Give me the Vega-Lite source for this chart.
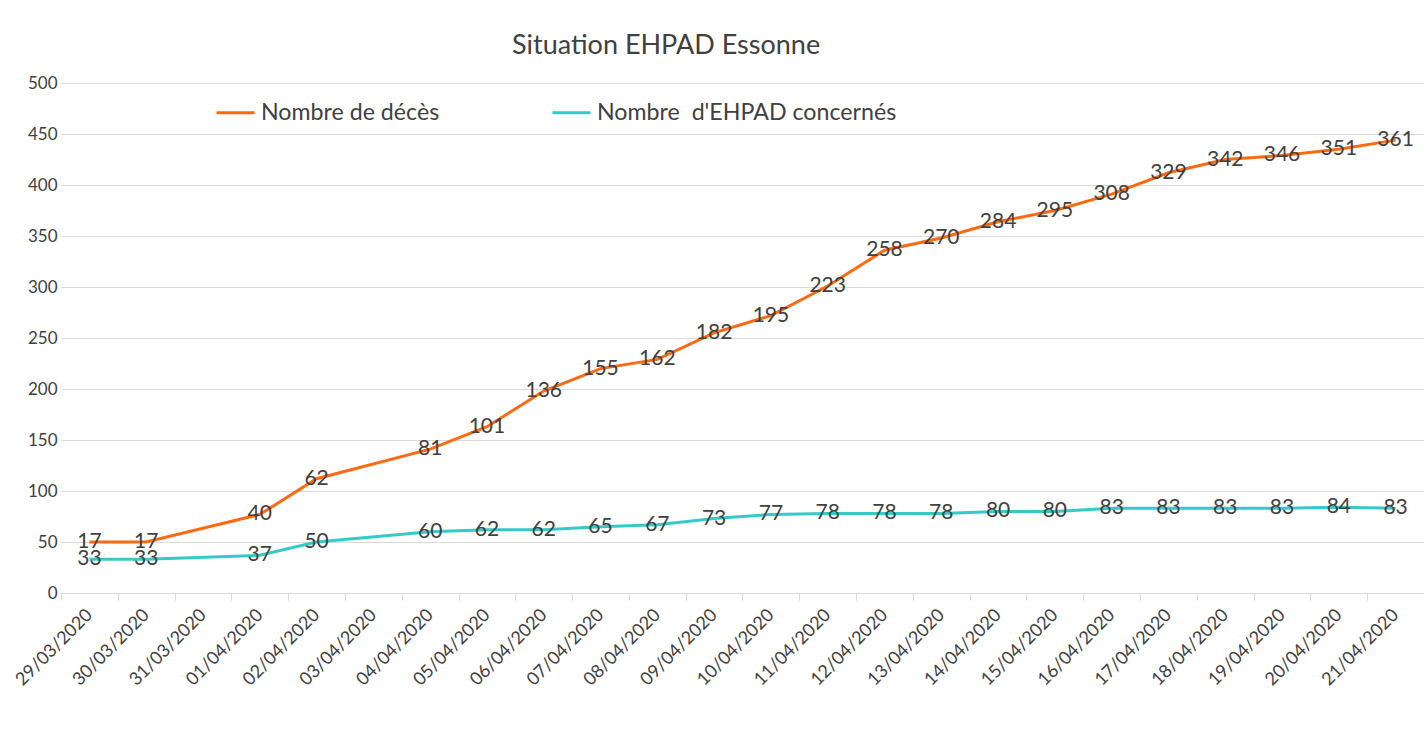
{
  "$schema": "https://vega.github.io/schema/vega-lite/v6.json",
  "width": 1363,
  "height": 510,
  "autosize": {"type": "none"},
  "padding": {"left": 61, "top": 83, "right": 0, "bottom": 141},
  "background": "white",
  "config": {"font": "Lato", "view": {"stroke": null}},
  "title": {"text": "Situation EHPAD Essonne", "anchor": "start", "frame": "group", "dx": 451, "fontSize": 27, "fontWeight": "normal", "color": "#404040", "offset": 14},
  "data": {"values": [
      {"date": "29/03/2020", "serie": "Nombre de décès", "valeur": 17},
      {"date": "30/03/2020", "serie": "Nombre de décès", "valeur": 17},
      {"date": "01/04/2020", "serie": "Nombre de décès", "valeur": 40},
      {"date": "02/04/2020", "serie": "Nombre de décès", "valeur": 62},
      {"date": "04/04/2020", "serie": "Nombre de décès", "valeur": 81},
      {"date": "05/04/2020", "serie": "Nombre de décès", "valeur": 101},
      {"date": "06/04/2020", "serie": "Nombre de décès", "valeur": 136},
      {"date": "07/04/2020", "serie": "Nombre de décès", "valeur": 155},
      {"date": "08/04/2020", "serie": "Nombre de décès", "valeur": 162},
      {"date": "09/04/2020", "serie": "Nombre de décès", "valeur": 182},
      {"date": "10/04/2020", "serie": "Nombre de décès", "valeur": 195},
      {"date": "11/04/2020", "serie": "Nombre de décès", "valeur": 223},
      {"date": "12/04/2020", "serie": "Nombre de décès", "valeur": 258},
      {"date": "13/04/2020", "serie": "Nombre de décès", "valeur": 270},
      {"date": "14/04/2020", "serie": "Nombre de décès", "valeur": 284},
      {"date": "15/04/2020", "serie": "Nombre de décès", "valeur": 295},
      {"date": "16/04/2020", "serie": "Nombre de décès", "valeur": 308},
      {"date": "17/04/2020", "serie": "Nombre de décès", "valeur": 329},
      {"date": "18/04/2020", "serie": "Nombre de décès", "valeur": 342},
      {"date": "19/04/2020", "serie": "Nombre de décès", "valeur": 346},
      {"date": "20/04/2020", "serie": "Nombre de décès", "valeur": 351},
      {"date": "21/04/2020", "serie": "Nombre de décès", "valeur": 361},
      {"date": "29/03/2020", "serie": "Nombre\u00a0 d'EHPAD concernés", "valeur": 33},
      {"date": "30/03/2020", "serie": "Nombre\u00a0 d'EHPAD concernés", "valeur": 33},
      {"date": "01/04/2020", "serie": "Nombre\u00a0 d'EHPAD concernés", "valeur": 37},
      {"date": "02/04/2020", "serie": "Nombre\u00a0 d'EHPAD concernés", "valeur": 50},
      {"date": "04/04/2020", "serie": "Nombre\u00a0 d'EHPAD concernés", "valeur": 60},
      {"date": "05/04/2020", "serie": "Nombre\u00a0 d'EHPAD concernés", "valeur": 62},
      {"date": "06/04/2020", "serie": "Nombre\u00a0 d'EHPAD concernés", "valeur": 62},
      {"date": "07/04/2020", "serie": "Nombre\u00a0 d'EHPAD concernés", "valeur": 65},
      {"date": "08/04/2020", "serie": "Nombre\u00a0 d'EHPAD concernés", "valeur": 67},
      {"date": "09/04/2020", "serie": "Nombre\u00a0 d'EHPAD concernés", "valeur": 73},
      {"date": "10/04/2020", "serie": "Nombre\u00a0 d'EHPAD concernés", "valeur": 77},
      {"date": "11/04/2020", "serie": "Nombre\u00a0 d'EHPAD concernés", "valeur": 78},
      {"date": "12/04/2020", "serie": "Nombre\u00a0 d'EHPAD concernés", "valeur": 78},
      {"date": "13/04/2020", "serie": "Nombre\u00a0 d'EHPAD concernés", "valeur": 78},
      {"date": "14/04/2020", "serie": "Nombre\u00a0 d'EHPAD concernés", "valeur": 80},
      {"date": "15/04/2020", "serie": "Nombre\u00a0 d'EHPAD concernés", "valeur": 80},
      {"date": "16/04/2020", "serie": "Nombre\u00a0 d'EHPAD concernés", "valeur": 83},
      {"date": "17/04/2020", "serie": "Nombre\u00a0 d'EHPAD concernés", "valeur": 83},
      {"date": "18/04/2020", "serie": "Nombre\u00a0 d'EHPAD concernés", "valeur": 83},
      {"date": "19/04/2020", "serie": "Nombre\u00a0 d'EHPAD concernés", "valeur": 83},
      {"date": "20/04/2020", "serie": "Nombre\u00a0 d'EHPAD concernés", "valeur": 84},
      {"date": "21/04/2020", "serie": "Nombre\u00a0 d'EHPAD concernés", "valeur": 83}
  ]},
  "encoding": {
    "x": {
      "field": "date",
      "type": "ordinal",
      "sort": ["29/03/2020", "30/03/2020", "31/03/2020", "01/04/2020", "02/04/2020", "03/04/2020", "04/04/2020", "05/04/2020", "06/04/2020", "07/04/2020", "08/04/2020", "09/04/2020", "10/04/2020", "11/04/2020", "12/04/2020", "13/04/2020", "14/04/2020", "15/04/2020", "16/04/2020", "17/04/2020", "18/04/2020", "19/04/2020", "20/04/2020", "21/04/2020"],
      "scale": {
        "type": "band",
        "domain": ["29/03/2020", "30/03/2020", "31/03/2020", "01/04/2020", "02/04/2020", "03/04/2020", "04/04/2020", "05/04/2020", "06/04/2020", "07/04/2020", "08/04/2020", "09/04/2020", "10/04/2020", "11/04/2020", "12/04/2020", "13/04/2020", "14/04/2020", "15/04/2020", "16/04/2020", "17/04/2020", "18/04/2020", "19/04/2020", "20/04/2020", "21/04/2020"],
        "paddingInner": 0,
        "paddingOuter": 0
      },
      "axis": {
        "title": null,
        "labelAngle": -45,
        "labelAlign": "right",
        "labelBaseline": "middle",
        "labelFontSize": 18,
        "labelColor": "#404040",
        "domainColor": "#d9d9d9",
        "tickColor": "#d9d9d9",
        "tickBand": "extent",
        "tickSize": 7,
        "labelPadding": 12,
        "grid": false
      }
    },
    "y": {
      "field": "valeur",
      "type": "quantitative",
      "stack": "zero",
      "scale": {"domain": [0, 500], "nice": false},
      "axis": {
        "title": null,
        "values": [0, 50, 100, 150, 200, 250, 300, 350, 400, 450, 500],
        "grid": true,
        "gridColor": "#d9d9d9",
        "domain": false,
        "ticks": false,
        "labelFontSize": 17,
        "labelColor": "#404040",
        "labelPadding": 4
      }
    },
    "order": {"field": "serie", "type": "nominal", "sort": "descending"}
  },
  "layer": [
    {
      "mark": {"type": "line", "strokeWidth": 3},
      "encoding": {
        "color": {
          "field": "serie",
          "type": "nominal",
          "scale": {"domain": ["Nombre de décès", "Nombre\u00a0 d'EHPAD concernés"], "range": ["#ff6a10", "#36c9c9"]},
          "legend": {
            "title": null,
            "orient": "none",
            "direction": "horizontal",
            "legendX": 154,
            "legendY": 9,
            "symbolType": "stroke",
            "symbolSize": 1444,
            "symbolStrokeWidth": 3,
            "labelFontSize": 23.2,
            "labelColor": "#404040",
            "labelOffset": 5,
            "columnPadding": 106,
            "labelLimit": 500
          }
        }
      }
    },
    {
      "mark": {"type": "text", "fontSize": 21, "fill": "#404040"},
      "encoding": {
        "detail": {"field": "serie", "type": "nominal"},
        "text": {"field": "valeur", "type": "quantitative"}
      }
    }
  ]
}
